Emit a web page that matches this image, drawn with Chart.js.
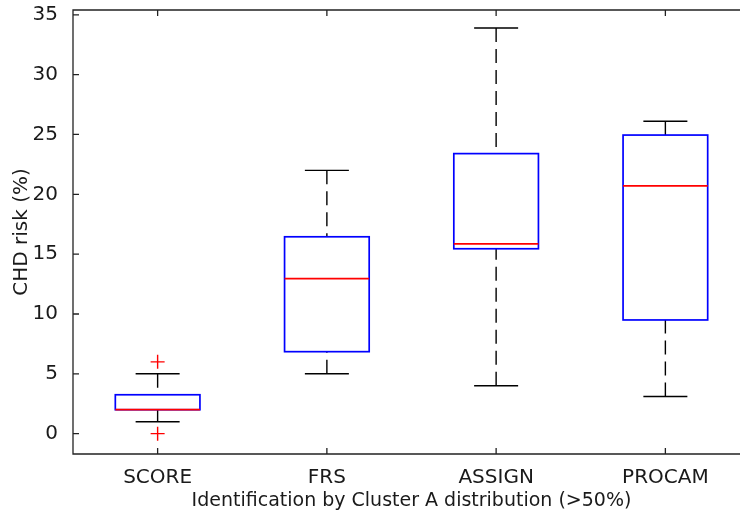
<!DOCTYPE html>
<html>
<head>
<meta charset="utf-8">
<script src="https://cdn.jsdelivr.net/npm/chart.js@4.4.1/dist/chart.umd.min.js"></script>
<style>
  html, body { margin: 0; padding: 0; background: #fff; overflow: hidden; }
  #wrap { width: 760px; height: 513px; }
</style>
</head>
<body>
<div id="wrap"><canvas id="boxChart" width="760" height="513"></canvas></div>
<script>
// box statistics (CHD risk, %)
const models = ['SCORE', 'FRS', 'ASSIGN', 'PROCAM'];
const whiskerLow = [1, 5, 4, 3.1];
const q1 = [2, 6.85, 15.45, 9.5];
const median = [2, 12.95, 15.85, 20.7];
const q3 = [3.25, 16.45, 23.4, 24.95];
const whiskerHigh = [5, 22, 33.9, 26.1];
// outliers: model index (1-based) and value
const outlierModel = [1, 1];
const outlierValue = [6, 0];
const yTicks = [0, 5, 10, 15, 20, 25, 30, 35];

const BOX_HALF = 0.25;
const CAP_HALF = 0.13;
const TICK_LEN = 6;

const boxPlotPlugin = {
    id: 'boxPlot',
    beforeDatasetsDraw(chart) {
        const { ctx, chartArea, scales: { x, y } } = chart;
        ctx.save();
        ctx.beginPath();
        ctx.rect(chartArea.left, chartArea.top, chartArea.right - chartArea.left, chartArea.bottom - chartArea.top);
        ctx.clip();

        models.forEach((_, i) => {
            const pos = i + 1;
            const xc = x.getPixelForValue(pos);
            const xb0 = x.getPixelForValue(pos - BOX_HALF);
            const xb1 = x.getPixelForValue(pos + BOX_HALF);
            const xc0 = x.getPixelForValue(pos - CAP_HALF);
            const xc1 = x.getPixelForValue(pos + CAP_HALF);

            // dashed whiskers
            ctx.strokeStyle = '#000';
            ctx.lineWidth = 1.4;
            ctx.setLineDash([14, 7]);
            ctx.beginPath();
            ctx.moveTo(xc, y.getPixelForValue(whiskerHigh[i]));
            ctx.lineTo(xc, y.getPixelForValue(q3[i]));
            ctx.moveTo(xc, y.getPixelForValue(whiskerLow[i]));
            ctx.lineTo(xc, y.getPixelForValue(q1[i]));
            ctx.stroke();
            ctx.setLineDash([]);

            // caps
            ctx.beginPath();
            ctx.moveTo(xc0, y.getPixelForValue(whiskerHigh[i]));
            ctx.lineTo(xc1, y.getPixelForValue(whiskerHigh[i]));
            ctx.moveTo(xc0, y.getPixelForValue(whiskerLow[i]));
            ctx.lineTo(xc1, y.getPixelForValue(whiskerLow[i]));
            ctx.stroke();

            // box
            ctx.strokeStyle = '#0000ff';
            ctx.lineWidth = 1.7;
            const yTop = y.getPixelForValue(q3[i]);
            const yBot = y.getPixelForValue(q1[i]);
            ctx.strokeRect(xb0, yTop, xb1 - xb0, yBot - yTop);

            // median
            ctx.strokeStyle = '#ff0000';
            ctx.beginPath();
            ctx.moveTo(xb0, y.getPixelForValue(median[i]));
            ctx.lineTo(xb1, y.getPixelForValue(median[i]));
            ctx.stroke();
        });
        ctx.restore();
    },
    afterDraw(chart) {
        // axes frame with inward ticks, matlab style
        const { ctx, chartArea: a, scales: { x, y } } = chart;
        ctx.save();
        ctx.strokeStyle = '#222';
        ctx.lineWidth = 1.3;
        ctx.beginPath();
        ctx.rect(a.left, a.top, a.right - a.left, a.bottom - a.top);
        yTicks.forEach(v => {
            const py = y.getPixelForValue(v);
            ctx.moveTo(a.left, py);
            ctx.lineTo(a.left + TICK_LEN, py);
            ctx.moveTo(a.right, py);
            ctx.lineTo(a.right - TICK_LEN, py);
        });
        models.forEach((_, i) => {
            const px = x.getPixelForValue(i + 1);
            ctx.moveTo(px, a.bottom);
            ctx.lineTo(px, a.bottom - TICK_LEN);
            ctx.moveTo(px, a.top);
            ctx.lineTo(px, a.top + TICK_LEN);
        });
        ctx.stroke();
        ctx.restore();
    }
};

const tickFont = { family: 'DejaVu Sans', size: 20 };

const chart = new Chart(document.getElementById('boxChart'), {
    type: 'scatter',
    data: {
        datasets: [{
            label: 'Outliers',
            data: outlierModel.map((m, i) => ({ x: m, y: outlierValue[i] })),
            pointStyle: 'cross',
            radius: 7,
            borderColor: '#ff0000',
            borderWidth: 1.4,
        }]
    },
    options: {
        responsive: false,
        animation: false,
        layout: { padding: { top: 10, right: 10, left: 0, bottom: 0 } },
        plugins: {
            legend: { display: false },
            tooltip: { enabled: false },
        },
        scales: {
            x: {
                type: 'linear',
                min: 0.5,
                max: 4.5,
                afterBuildTicks: scale => { scale.ticks = models.map((_, i) => ({ value: i + 1 })); },
                afterFit: scale => {
                    scale.height = 59;
                    scale.paddingLeft = 0;
                    scale.paddingRight = 0;
                },
                grid: { display: false },
                border: { display: false },
                ticks: {
                    color: '#1a1a1a',
                    font: tickFont,
                    padding: 4,
                    maxRotation: 0,
                    callback: v => models[v - 1],
                },
                title: {
                    display: true,
                    text: 'Identification by Cluster A distribution (>50%)',
                    color: '#1a1a1a',
                    font: { family: 'DejaVu Sans', size: 19 },
                    padding: { top: 0, bottom: 1 },
                },
            },
            y: {
                min: -1.7,
                max: 35.4,
                afterBuildTicks: scale => { scale.ticks = yTicks.map(v => ({ value: v })); },
                afterFit: scale => {
                    scale.width = 73;
                    scale.paddingTop = 0;
                    scale.paddingBottom = 0;
                },
                grid: { display: false },
                border: { display: false },
                ticks: {
                    color: '#1a1a1a',
                    font: tickFont,
                    padding: 7,
                },
                title: {
                    display: true,
                    text: 'CHD risk (%)',
                    color: '#1a1a1a',
                    font: tickFont,
                    padding: { top: 10, bottom: 0 },
                },
            },
        },
    },
    plugins: [boxPlotPlugin],
});
</script>
</body>
</html>
